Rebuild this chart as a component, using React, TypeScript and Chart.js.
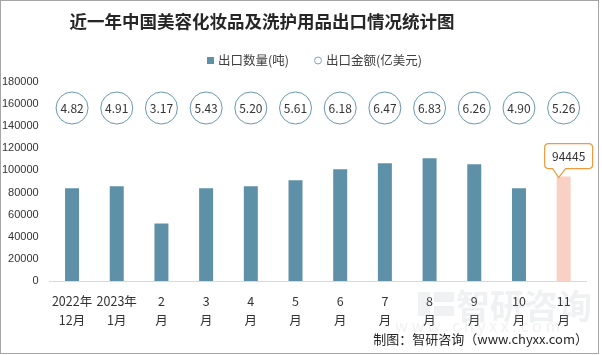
import React, { useEffect, useRef } from "react";
import { Chart, registerables } from "chart.js";

Chart.register(...registerables);

const TITLE = "近一年中国美容化妆品及洗护用品出口情况统计图";
const SERIES_QTY = "出口数量(吨)";
const SERIES_AMT = "出口金额(亿美元)";
const CATEGORIES: string[][] = [
  ["2022年", "12月"],
  ["2023年", "1月"],
  ["2", "月"],
  ["3", "月"],
  ["4", "月"],
  ["5", "月"],
  ["6", "月"],
  ["7", "月"],
  ["8", "月"],
  ["9", "月"],
  ["10", "月"],
  ["11", "月"],
];
const QUANTITY = [84000, 85700, 52000, 84000, 85700, 91100, 101100, 106500, 111100, 105600, 84000, 94445];
const AMOUNT = ["4.82", "4.91", "3.17", "5.43", "5.20", "5.61", "6.18", "6.47", "6.83", "6.26", "4.90", "5.26"];
const Y_MAX = 180000;
const Y_STEP = 20000;
const FOOTER = "制图：智研咨询（www.chyxx.com）";

const TEAL = "#5e90a7";
const PINK = "#f9d0c4";
const ORANGE = "#ec9a3c";
const CJK = '"Noto Sans CJK SC", "Noto Sans", sans-serif';

const decorPlugin = {
  id: "decor",
  beforeDraw(chart: any) {
    const ctx = chart.ctx;
    ctx.save();
    ctx.fillStyle = "#ffffff";
    ctx.fillRect(0, 0, chart.width, chart.height);
    ctx.restore();
  },
  afterDatasetsDraw(chart: any) {
    const ctx = chart.ctx;
    const xs = chart.scales.x;
    const area = chart.chartArea;
    ctx.save();
    // amount circles
    const cy = area.top + 26;
    AMOUNT.forEach((v, i) => {
      const x = xs.getPixelForValue(i);
      ctx.beginPath();
      ctx.arc(x, cy, 16, 0, Math.PI * 2);
      ctx.fillStyle = "#ffffff";
      ctx.fill();
      ctx.lineWidth = 1;
      ctx.strokeStyle = "#6a98ad";
      ctx.stroke();
      ctx.fillStyle = "#333333";
      ctx.font = `12px ${CJK}`;
      ctx.textAlign = "center";
      ctx.textBaseline = "middle";
      ctx.fillText(v, x, cy + 0.5);
    });
    // callout for last bar
    const meta = chart.getDatasetMeta(0);
    const last = QUANTITY.length - 1;
    const bar = meta.data[last];
    const bx = bar.x;
    const by = bar.y;
    const boxL = bx - 19, boxR = bx + 29, boxT = by - 33, boxB = by - 8;
    const r = 4;
    const tipX = bx - 5, tipY = by + 1;
    ctx.beginPath();
    ctx.moveTo(boxL + r, boxT);
    ctx.lineTo(boxR - r, boxT);
    ctx.quadraticCurveTo(boxR, boxT, boxR, boxT + r);
    ctx.lineTo(boxR, boxB - r);
    ctx.quadraticCurveTo(boxR, boxB, boxR - r, boxB);
    ctx.lineTo(bx + 2, boxB);
    ctx.lineTo(tipX, tipY);
    ctx.lineTo(bx - 11, boxB);
    ctx.lineTo(boxL + r, boxB);
    ctx.quadraticCurveTo(boxL, boxB, boxL, boxB - r);
    ctx.lineTo(boxL, boxT + r);
    ctx.quadraticCurveTo(boxL, boxT, boxL + r, boxT);
    ctx.closePath();
    ctx.fillStyle = "#ffffff";
    ctx.fill();
    ctx.strokeStyle = ORANGE;
    ctx.lineWidth = 1.2;
    ctx.stroke();
    ctx.fillStyle = "#333333";
    ctx.font = `12px ${CJK}`;
    ctx.textAlign = "center";
    ctx.textBaseline = "middle";
    ctx.fillText(String(QUANTITY[last]), (boxL + boxR) / 2, (boxT + boxB) / 2);
    ctx.restore();
  },
  afterDraw(chart: any) {
    const ctx = chart.ctx;
    ctx.save();
    // title
    ctx.fillStyle = "#262626";
    ctx.font = `bold 17.5px ${CJK}`;
    ctx.textAlign = "center";
    ctx.textBaseline = "middle";
    ctx.fillText(TITLE, 262, 21);
    // legend
    ctx.font = `12.5px ${CJK}`;
    ctx.textAlign = "left";
    ctx.fillStyle = TEAL;
    ctx.fillRect(207, 57, 7, 7);
    ctx.fillStyle = "#404040";
    ctx.fillText(SERIES_QTY, 218, 60.5);
    ctx.beginPath();
    ctx.arc(318, 60.5, 3.5, 0, Math.PI * 2);
    ctx.strokeStyle = "#7fa8bb";
    ctx.lineWidth = 1;
    ctx.stroke();
    ctx.fillText(SERIES_AMT, 326, 60.5);
    // watermark
    ctx.fillStyle = "rgba(160,170,180,0.16)";
    ctx.font = `bold 34px ${CJK}`;
    ctx.textAlign = "left";
    ctx.fillText("智研咨询", 456, 306);
    ctx.fillRect(418, 292, 12, 24);
    ctx.fillRect(434, 292, 20, 10);
    ctx.fillRect(434, 306, 20, 10);
    ctx.font = `16px ${CJK}`;
    ctx.fillText("w w w . c h y x x . c o m", 395, 326);
    // footer
    ctx.fillStyle = "#262626";
    ctx.font = `13px ${CJK}`;
    ctx.textAlign = "right";
    ctx.fillText(FOOTER, 588, 339);
    // border
    ctx.strokeStyle = "#a6a6a6";
    ctx.lineWidth = 1;
    ctx.strokeRect(0.5, 0.5, 598, 353);
    ctx.restore();
  },
};

export default function App() {
  const ref = useRef<HTMLCanvasElement | null>(null);
  useEffect(() => {
    if (!ref.current) return;
    const chart = new Chart(ref.current, {
      type: "bar",
      data: {
        labels: CATEGORIES,
        datasets: [
          {
            label: SERIES_QTY,
            data: QUANTITY,
            backgroundColor: QUANTITY.map((_, i) => (i === QUANTITY.length - 1 ? PINK : TEAL)),
            borderWidth: 0,
            barPercentage: 0.313,
            categoryPercentage: 1,
          },
        ],
      },
      options: {
        responsive: false,
        animation: false,
        layout: { padding: { top: 82, left: -9, right: 16, bottom: 15 } },
        plugins: {
          legend: { display: false },
          title: { display: false },
          tooltip: { enabled: false },
        },
        scales: {
          x: {
            grid: { display: false, drawTicks: false },
            border: { display: true, color: "#d9d9d9", width: 1 },
            ticks: {
              color: "#333333",
              font: { family: CJK, size: 12.5, lineHeight: 1.56 },
              padding: 10,
              maxRotation: 0,
              autoSkip: false,
            },
          },
          y: {
            min: 0,
            max: Y_MAX,
            grid: { display: false, drawTicks: false },
            border: { display: false },
            ticks: {
              stepSize: Y_STEP,
              color: "#333333",
              font: { family: '"Liberation Sans", sans-serif', size: 11 },
              padding: 11,
              callback: (v: any) => String(v),
            },
          },
        },
      },
      plugins: [decorPlugin],
    });
    return () => chart.destroy();
  }, []);
  return (
    <div style={{ position: "fixed", left: 0, top: 0, width: 602, height: 355, background: "#fff" }}>
      <canvas ref={ref} width={602} height={355} style={{ display: "block", width: 602, height: 355 }} />
    </div>
  );
}
